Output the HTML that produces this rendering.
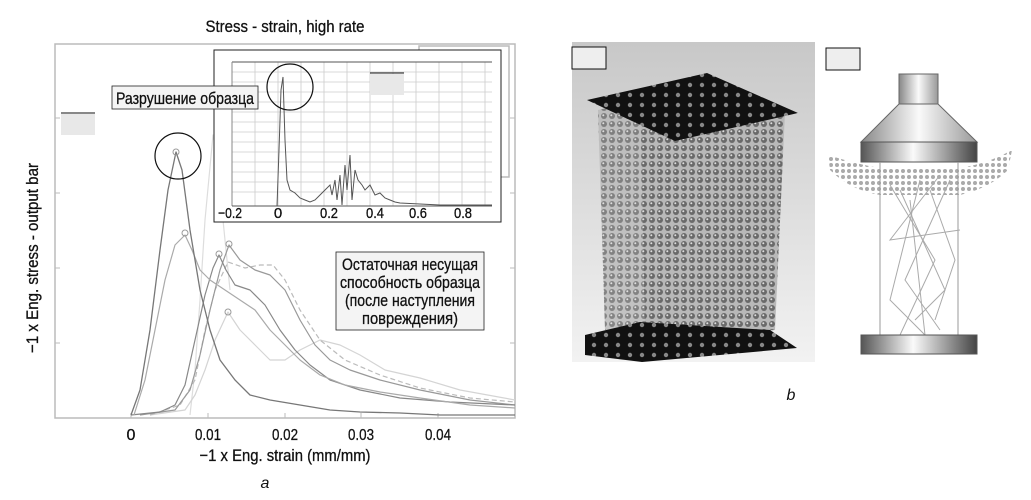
<!DOCTYPE html>
<html><head><meta charset="utf-8"><style>
html,body{margin:0;padding:0;background:#fff;}
svg{display:block;font-family:"Liberation Sans","Noto Sans CJK SC",sans-serif;}
</style></head><body>
<svg width="1031" height="500" viewBox="0 0 1031 500" xmlns="http://www.w3.org/2000/svg">
<defs>
<linearGradient id="bg" x1="0" y1="0" x2="0" y2="1"><stop offset="0" stop-color="#c8c8c8"/><stop offset="1" stop-color="#f2f2f2"/></linearGradient>
<linearGradient id="cyl" x1="0" y1="0" x2="1" y2="0"><stop offset="0" stop-color="#555"/><stop offset="0.45" stop-color="#fafafa"/><stop offset="1" stop-color="#444"/></linearGradient>
<linearGradient id="cone" x1="0" y1="0" x2="1" y2="0"><stop offset="0" stop-color="#888"/><stop offset="0.5" stop-color="#fafafa"/><stop offset="1" stop-color="#999"/></linearGradient>
<pattern id="dots" width="8" height="8" patternUnits="userSpaceOnUse"><rect width="8" height="8" fill="#b8b8b8"/><circle cx="4" cy="4" r="3" fill="#6a6a6a"/><circle cx="3.3" cy="3.3" r="1" fill="#ddd"/></pattern>
<pattern id="pdots" width="12" height="10" patternUnits="userSpaceOnUse"><rect width="12" height="10" fill="#111"/><circle cx="6" cy="5" r="2.2" fill="#888"/></pattern>
<pattern id="spray" width="6" height="6" patternUnits="userSpaceOnUse"><circle cx="3" cy="3" r="2" fill="#aaa"/></pattern>
</defs>
<g fill="#111" stroke="#111" stroke-width="0.3" text-anchor="middle" lengthAdjust="spacingAndGlyphs">
<text x="285" y="32" font-size="17" textLength="159" lengthAdjust="spacingAndGlyphs">Stress - strain, high rate</text>
<text x="285" y="461" font-size="17" textLength="171" lengthAdjust="spacingAndGlyphs">−1 x Eng. strain (mm/mm)</text>
<text transform="translate(38,258) rotate(-90)" font-size="17" textLength="190" lengthAdjust="spacingAndGlyphs">−1 x Eng. stress - output bar</text>
</g>
<rect x="55" y="44" width="460" height="374" fill="none" stroke="#bbb" stroke-width="1.5"/>
<rect x="419" y="46" width="90" height="131" fill="none" stroke="#bbb" stroke-width="1.5"/>
<g stroke="#bbb" stroke-width="1">
<line x1="131" y1="418" x2="131" y2="413"/><line x1="208" y1="418" x2="208" y2="413"/><line x1="285" y1="418" x2="285" y2="413"/><line x1="361" y1="418" x2="361" y2="413"/><line x1="438" y1="418" x2="438" y2="413"/>
<line x1="55" y1="118" x2="60" y2="118"/><line x1="55" y1="193" x2="60" y2="193"/><line x1="55" y1="268" x2="60" y2="268"/><line x1="55" y1="343" x2="60" y2="343"/>
<line x1="515" y1="118" x2="510" y2="118"/><line x1="515" y1="193" x2="510" y2="193"/><line x1="515" y1="268" x2="510" y2="268"/><line x1="515" y1="343" x2="510" y2="343"/>
</g>
<g font-size="16" fill="#111" stroke="#111" stroke-width="0.3" text-anchor="middle">
<text x="131" y="440">0</text><text x="208" y="440" textLength="26" lengthAdjust="spacingAndGlyphs">0.01</text><text x="285" y="440" textLength="26" lengthAdjust="spacingAndGlyphs">0.02</text><text x="361" y="440" textLength="26" lengthAdjust="spacingAndGlyphs">0.03</text><text x="438" y="440" textLength="26" lengthAdjust="spacingAndGlyphs">0.04</text>
</g>
<text x="265" y="488" font-size="16" font-style="italic" text-anchor="middle" fill="#111">a</text>
<g fill="none" stroke-linejoin="round">
<polyline stroke="#ddd" stroke-width="1.2" points="190,415 195,370 200,300 205,220 213,135 218,160 222,210 226,250 230,290"/>
<polyline stroke="#d4d4d4" stroke-width="1.2" points="150,415 185,410 195,395 205,370 215,340 228,312 240,330 255,345 270,360 285,360 300,350 320,340 340,345 360,355 385,370 420,378 460,390 515,400"/>
<polyline stroke="#bbb" stroke-width="1.2" stroke-dasharray="5,3" points="150,415 180,405 195,380 205,330 215,290 228,262 245,268 260,265 273,265 285,280 300,310 320,340 345,360 380,375 420,388 470,398 515,402"/>
<polyline stroke="#999" stroke-width="1.2" points="140,415 175,410 190,390 200,355 210,310 220,270 229,245 240,260 255,270 270,275 285,290 300,320 315,345 330,360 350,370 380,380 420,390 470,400 515,405"/>
<polyline stroke="#888" stroke-width="1.2" points="131,415 160,412 175,405 185,385 195,340 205,295 213,268 219,255 226,270 235,285 250,290 265,305 280,330 295,350 310,365 330,380 360,390 400,398 450,402 515,405"/>
<polyline stroke="#aaa" stroke-width="1.2" points="134,415 145,380 155,330 165,280 175,245 185,235 192,250 200,270 210,280 225,290 240,300 255,310 270,330 285,345 300,360 320,375 345,385 380,392 420,398 470,405 515,408"/>
<polyline stroke="#777" stroke-width="1.3" points="131,415 140,390 150,330 160,250 168,190 176,152 182,170 190,230 200,290 210,330 220,360 235,380 250,395 270,400 300,405 330,410 360,412 400,413 440,415 515,415"/>
<g stroke="#999" stroke-width="1"><circle cx="176" cy="152" r="3"/><circle cx="185" cy="233" r="3"/><circle cx="219" cy="254" r="3"/><circle cx="229" cy="244" r="3"/><circle cx="228" cy="312" r="3"/></g>
</g>
<circle cx="178" cy="156" r="23" fill="none" stroke="#111" stroke-width="1.2"/>
<line x1="61" y1="113" x2="95" y2="113" stroke="#111"/>
<rect x="61" y="114" width="34" height="21" fill="#e8e8e8"/>
<!-- inset -->
<rect x="214" y="50" width="287" height="172" fill="#fff" stroke="#222" stroke-width="1"/>
<g stroke="#ccc" stroke-width="0.8">
<line x1="232" y1="72" x2="492" y2="72"/><line x1="232" y1="82" x2="492" y2="82"/><line x1="232" y1="92" x2="492" y2="92"/><line x1="232" y1="102" x2="492" y2="102"/><line x1="232" y1="112" x2="492" y2="112"/><line x1="232" y1="122" x2="492" y2="122"/><line x1="232" y1="132" x2="492" y2="132"/><line x1="232" y1="142" x2="492" y2="142"/><line x1="232" y1="152" x2="492" y2="152"/><line x1="232" y1="162" x2="492" y2="162"/><line x1="232" y1="172" x2="492" y2="172"/><line x1="232" y1="182" x2="492" y2="182"/><line x1="232" y1="192" x2="492" y2="192"/>
<line x1="255" y1="62" x2="255" y2="206"/><line x1="278" y1="62" x2="278" y2="206"/><line x1="301" y1="62" x2="301" y2="206"/><line x1="324" y1="62" x2="324" y2="206"/><line x1="347" y1="62" x2="347" y2="206"/><line x1="370" y1="62" x2="370" y2="206"/><line x1="393" y1="62" x2="393" y2="206"/><line x1="416" y1="62" x2="416" y2="206"/><line x1="439" y1="62" x2="439" y2="206"/><line x1="462" y1="62" x2="462" y2="206"/><line x1="485" y1="62" x2="485" y2="206"/>
</g>
<line x1="232" y1="62" x2="492" y2="62" stroke="#555" stroke-width="1"/>
<line x1="232" y1="206" x2="492" y2="206" stroke="#555" stroke-width="1"/>
<line x1="232" y1="62" x2="232" y2="206" stroke="#888" stroke-width="1"/>
<polyline fill="none" stroke="#555" stroke-width="1" points="232,206 277,206 279,150 281,90 283,77 285,140 287,180 290,190 295,193 300,198 305,200 310,202 315,200 320,195 325,190 330,185 332,195 335,180 337,200 340,175 342,205 345,165 347,190 350,155 352,200 355,170 358,180 362,185 365,190 370,185 375,195 380,193 385,198 390,200 395,202 400,203 420,204 440,205 460,205 492,205"/>
<g font-size="15" fill="#111" stroke="#111" stroke-width="0.3" text-anchor="middle">
<text x="230" y="218" textLength="24" lengthAdjust="spacingAndGlyphs">−0.2</text><text x="278" y="218">0</text><text x="329" y="218" textLength="18" lengthAdjust="spacingAndGlyphs">0.2</text><text x="375" y="218" textLength="18" lengthAdjust="spacingAndGlyphs">0.4</text><text x="418" y="218" textLength="18" lengthAdjust="spacingAndGlyphs">0.6</text><text x="463" y="218" textLength="18" lengthAdjust="spacingAndGlyphs">0.8</text>
</g>
<circle cx="290" cy="87" r="23" fill="none" stroke="#111" stroke-width="1.2"/>
<line x1="370" y1="73" x2="404" y2="73" stroke="#111"/>
<rect x="370" y="74" width="34" height="21" fill="#e8e8e8"/>
<rect x="112" y="86" width="146" height="23" fill="#f4f4f4" stroke="#222" stroke-width="0.8"/>
<text x="185" y="104" font-size="17" text-anchor="middle" fill="#111" stroke="#111" stroke-width="0.3" textLength="138" lengthAdjust="spacingAndGlyphs">Разрушение образца</text>
<rect x="336" y="252" width="148" height="78" fill="#f4f4f4" stroke="#222" stroke-width="0.8"/>
<g font-size="17" text-anchor="middle" fill="#111" stroke="#111" stroke-width="0.3">
<text x="410" y="270" textLength="136" lengthAdjust="spacingAndGlyphs">Остаточная несущая</text><text x="410" y="288" textLength="140" lengthAdjust="spacingAndGlyphs">способность образца</text><text x="410" y="306" textLength="130" lengthAdjust="spacingAndGlyphs">(после наступления</text><text x="410" y="324" textLength="96" lengthAdjust="spacingAndGlyphs">повреждения)</text>
</g>
<!-- right photo -->
<rect x="572" y="42" width="243" height="320" fill="url(#bg)"/>
<polygon points="598,110 640,100 645,340 605,330" fill="url(#dots)" opacity="0.8"/>
<polygon points="640,100 785,112 775,330 645,340" fill="url(#dots)"/>
<polygon points="587,100 707,73 798,113 675,141" fill="url(#pdots)"/>
<polygon points="585,335 640,322 770,330 797,348 642,362 585,355" fill="url(#pdots)"/>
<rect x="572" y="47" width="34" height="22" fill="#eee" stroke="#111"/>
<!-- right drawing -->
<rect x="826" y="48" width="34" height="22" fill="#eee" stroke="#111"/>
<path d="M828,155 Q860,165 880,168 L958,168 Q985,165 1012,150 L1008,170 Q990,188 960,195 L880,195 Q850,190 830,170 Z" fill="url(#spray)"/>
<rect x="899" y="74" width="39" height="30" fill="url(#cone)" stroke="#666"/>
<polygon points="899,104 938,104 977,142 861,142" fill="url(#cone)" stroke="#666"/>
<rect x="861" y="142" width="116" height="20" fill="url(#cyl)" stroke="#555"/>
<line x1="880" y1="162" x2="880" y2="335" stroke="#999"/>
<line x1="958" y1="162" x2="958" y2="335" stroke="#999"/>
<g stroke="#aaa" stroke-width="1" fill="none">
<polyline points="890,185 935,260 900,335"/><polyline points="920,180 890,300 925,335"/><polyline points="950,180 905,280 940,330"/><polyline points="930,190 955,260 935,320"/><polyline points="900,190 945,290 915,320"/><polyline points="940,175 890,240 960,230"/><polyline points="910,200 925,335"/>
</g>
<rect x="861" y="335" width="116" height="19" fill="url(#cyl)" stroke="#555"/>
<text x="791" y="400" font-size="16" font-style="italic" text-anchor="middle" fill="#111">b</text>
</svg>
</body></html>
